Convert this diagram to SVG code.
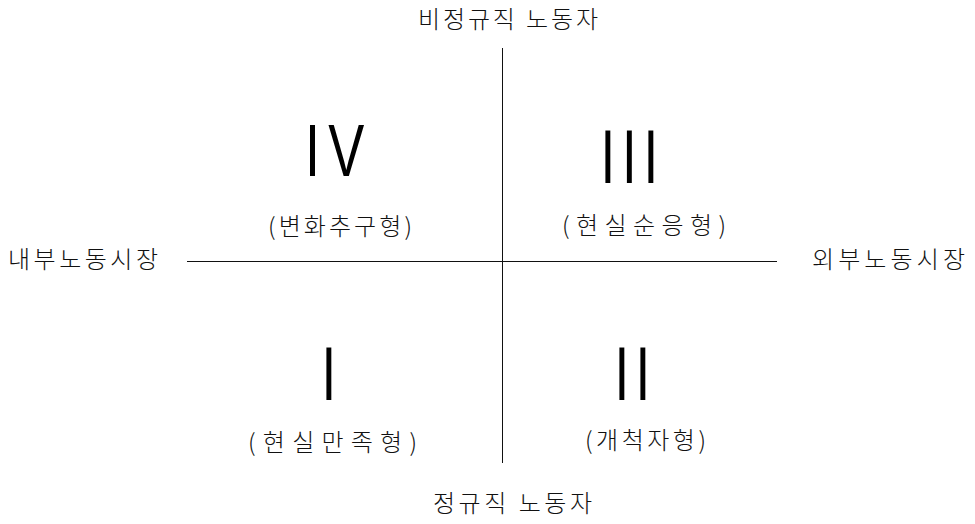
<svg xmlns="http://www.w3.org/2000/svg" width="975" height="524" viewBox="0 0 975 524">
<style>
.t{font-family:"Noto Sans CJK KR","Noto Sans",sans-serif;font-size:24px;font-weight:300;fill:#111;}
.n{font-family:"Liberation Sans",Arial,sans-serif;fill:#000;}
.ax{stroke:#111;stroke-width:1;fill:none;}
</style>
<rect width="975" height="524" fill="#fff"/>
<g id="connectors">
<line class="ax" x1="502.5" y1="48" x2="502.5" y2="463"/>
<line class="ax" x1="187" y1="261.5" x2="777" y2="261.5"/>
</g>
<g id="axis-top"><text class="t" x="418" y="28" textLength="180" lengthAdjust="spacing">비정규직 노동자</text></g>
<g id="axis-bottom"><text class="t" x="433" y="512" textLength="159" lengthAdjust="spacing">정규직 노동자</text></g>
<g id="axis-left"><text class="t" x="8" y="268" textLength="150" lengthAdjust="spacing">내부노동시장</text></g>
<g id="axis-right"><text class="t" x="812" y="268" textLength="153" lengthAdjust="spacing">외부노동시장</text></g>
<g id="q4">
<g transform="translate(305,176) scale(1.5,2.05)"><text class="n" x="0" y="0" font-size="36" letter-spacing="5.5">IV</text></g>
<text class="t" x="268" y="235" textLength="144" lengthAdjust="spacing">(변화추구형)</text>
</g>
<g id="q3">
<g transform="translate(600.5,183) scale(1,1.45)"><text class="n" x="0" y="0" font-size="53" letter-spacing="6.8">III</text></g>
<text class="t" x="562" y="234" textLength="164" lengthAdjust="spacing">(현실순응형)</text>
</g>
<g id="q1">
<g transform="translate(321.5,400) scale(1,1.45)"><text class="n" x="0" y="0" font-size="53">I</text></g>
<text class="t" x="248" y="451" textLength="169" lengthAdjust="spacing">(현실만족형)</text>
</g>
<g id="q2">
<g transform="translate(614.5,400) scale(1,1.45)"><text class="n" x="0" y="0" font-size="53" letter-spacing="6.3">II</text></g>
<text class="t" x="585" y="449" textLength="121" lengthAdjust="spacing">(개척자형)</text>
</g>
</svg>
